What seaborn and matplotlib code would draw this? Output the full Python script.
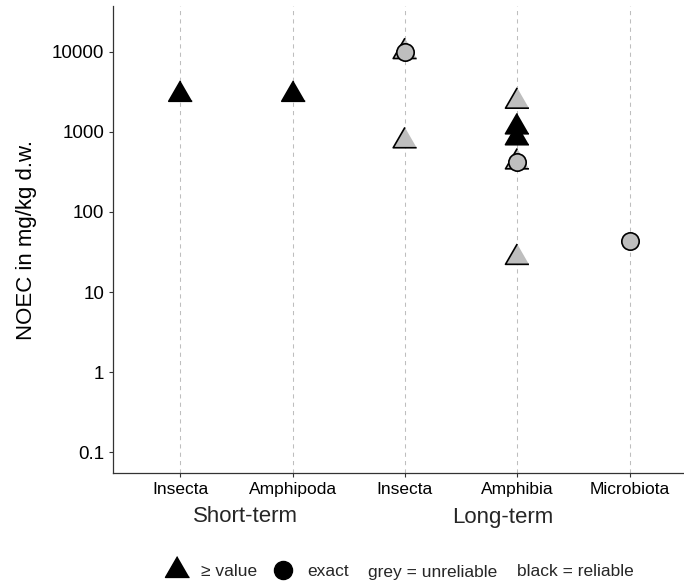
import matplotlib
matplotlib.use("Agg")
import matplotlib.pyplot as plt
from matplotlib.lines import Line2D
import seaborn as sns
import pandas as pd

# ---------------- data ----------------
categories = ["ST Insecta", "ST Amphipoda", "LT Insecta", "LT Amphibia", "LT Microbiota"]
tick_labels = ["Insecta", "Amphipoda", "Insecta", "Amphibia", "Microbiota"]
group_labels = ["Short-term", "Long-term"]

# triangles (>= value)
tri_cat = ["ST Insecta", "ST Amphipoda", "LT Insecta", "LT Insecta",
           "LT Amphibia", "LT Amphibia", "LT Amphibia", "LT Amphibia", "LT Amphibia"]
tri_val = [3000, 3000, 10000, 770, 2400, 1150, 840, 420, 27]
tri_rel = ["reliable", "reliable", "unreliable", "unreliable",
           "unreliable", "reliable", "reliable", "unreliable", "unreliable"]

# circles (exact)
circ_cat = ["LT Insecta", "LT Amphibia", "LT Microbiota"]
circ_val = [10000, 420, 43]
circ_rel = ["unreliable", "unreliable", "unreliable"]

y_ticks = [0.1, 1, 10, 100, 1000, 10000]
y_tick_labels = ["0.1", "1", "10", "100", "1000", "10000"]

legend_labels = ["\u2265 value", "exact"]
legend_texts = ["grey = unreliable", "black = reliable"]

# ---------------- style ----------------
sns.set_style("ticks")
plt.rcParams["font.family"] = ["Liberation Sans", "DejaVu Sans"]

GREY = "#BEBEBE"
palette = {"unreliable": GREY, "reliable": "black"}
tri_marker = [(0, 1), (-0.8660254, -0.5), (0.8660254, -0.5)]  # centroid-centered

df_tri = pd.DataFrame({"cat": tri_cat, "val": tri_val, "rel": tri_rel})
df_circ = pd.DataFrame({"cat": circ_cat, "val": circ_val, "rel": circ_rel})

W, H = 684, 583
fig = plt.figure(figsize=(W / 100, H / 100), dpi=100)
left_px, bottom_px, top_px = 112.7, 473.0, 6.0
ax = fig.add_axes([left_px / W, (H - bottom_px) / H, 1 - left_px / W, (bottom_px - top_px) / H])

sns.stripplot(data=df_tri, x="cat", y="val", hue="rel", order=categories,
              palette=palette, jitter=False, dodge=False, marker=tri_marker,
              size=19.5, edgecolor="black", linewidth=1.2, legend=False,
              log_scale=(False, True), ax=ax, zorder=3)
sns.stripplot(data=df_circ, x="cat", y="val", hue="rel", order=categories,
              palette=palette, jitter=False, dodge=False, marker="o",
              size=12.5, edgecolor="black", linewidth=1.2, legend=False,
              log_scale=(False, True), ax=ax, zorder=4)

ax.set_yscale("log")
ax.set_ylim(10 ** -1.2575, 10 ** 4.571)
ax.set_xlim(-0.602, 4.485)
ax.set_yticks(y_ticks)
ax.set_yticklabels(y_tick_labels)
ax.yaxis.set_minor_locator(matplotlib.ticker.NullLocator())
ax.set_xticks(range(len(categories)))
ax.set_xticklabels(tick_labels)

ax.set_axisbelow(True)
ax.xaxis.grid(True, color=GREY, linewidth=0.75, linestyle=(0, (4, 4)))
ax.yaxis.grid(False)

for s in ["top", "right"]:
    ax.spines[s].set_visible(False)
for s in ["left", "bottom"]:
    ax.spines[s].set_color("#333333")
    ax.spines[s].set_linewidth(0.9)

ax.tick_params(axis="both", direction="out", length=3.2, width=0.8, color="#333333", pad=3)
ax.tick_params(axis="y", labelsize=13.5, labelcolor="black")
ax.tick_params(axis="x", labelsize=12.5, labelcolor="black")

ax.set_xlabel("")
ax.set_ylabel("NOEC in mg/kg d.w.", fontsize=16, color="black")
ax.yaxis.set_label_coords((37 - left_px) / (W - left_px), 0.5)

# group labels below category ticks
fig.text(245 / W, 1 - 522 / H, group_labels[0], fontsize=16, ha="center", va="baseline")
fig.text(502.5 / W, 1 - 522.5 / H, group_labels[1], fontsize=16, ha="center", va="baseline")

# legend
handles = [
    Line2D([], [], linestyle="none", marker=tri_marker, markersize=20,
           markerfacecolor="black", markeredgecolor="black"),
    Line2D([], [], linestyle="none", marker="o", markersize=13,
           markerfacecolor="black", markeredgecolor="black"),
]
fig.legend(handles, legend_labels, ncol=2, loc="center left",
           bbox_to_anchor=(165 / W, 1 - 571 / H), frameon=False,
           fontsize=12.5, handlelength=1.4, handletextpad=0.7, columnspacing=0.75,
           borderpad=0, borderaxespad=0)
fig.text(368 / W, 1 - 572 / H, legend_texts[0], fontsize=12.5, ha="left", va="center")
fig.text(517 / W, 1 - 572 / H, legend_texts[1], fontsize=12.5, ha="left", va="center")

fig.savefig("out.png", dpi=100)
